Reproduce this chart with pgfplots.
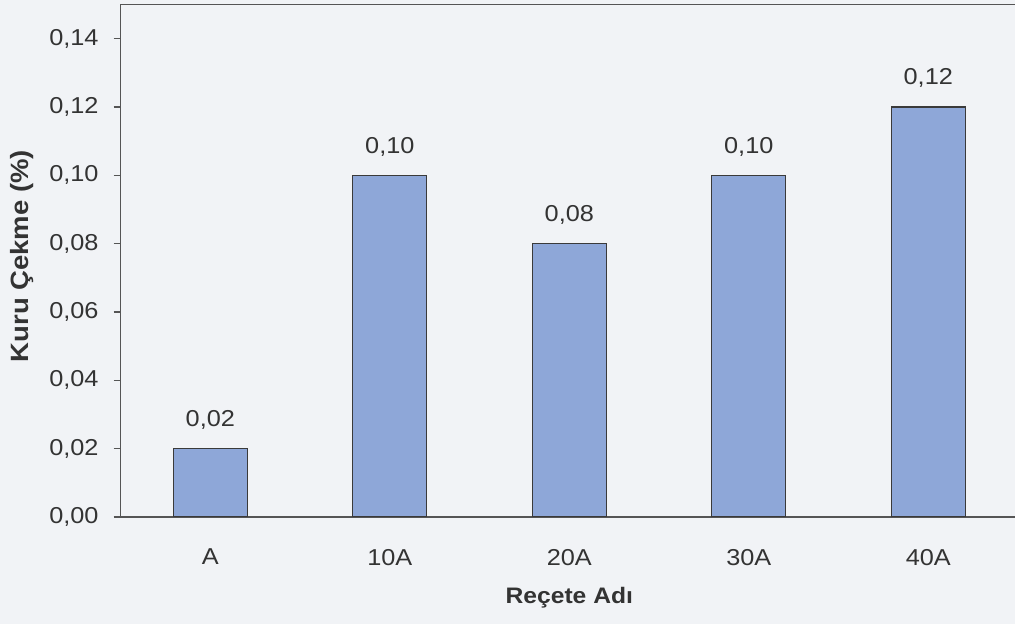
\documentclass[border=0pt]{standalone}
\usepackage{pgfplots}
\pgfplotsset{compat=1.18}
\usepackage{fontspec}
\setmainfont{Liberation Sans}[FakeStretch=1.1]

\definecolor{pagebg}{HTML}{F1F3F6}
\definecolor{barfill}{HTML}{8EA7D8}
\definecolor{baredge}{HTML}{3A3A3A}
\definecolor{axisgray}{HTML}{555555}
\definecolor{textgray}{HTML}{333333}

\begin{document}
\begin{tikzpicture}
  % page area and background
  \path[use as bounding box, fill=pagebg] (0,0) rectangle (507.5pt,312pt);
  \begin{axis}[
    at={(60.3pt,53.5pt)}, anchor=south west,
    scale only axis,
    width=448.7pt, height=256.25pt,
    xmin=-0.5, xmax=4.5,
    ymin=0, ymax=0.15,
    ytick={0,0.02,...,0.141},
    xtick={0,1,2,3,4},
    xticklabels={A,10A,20A,30A,40A},
    xtick pos=bottom, ytick pos=left,
    tick align=outside,
    major tick length=3.5pt,
    major x tick style={draw=none},
    extra x ticks={-0.5,0.5,1.5,2.5,3.5,4.5},
    extra x tick labels={},
    extra x tick style={major tick length=3.5pt, tick style={draw=axisgray, line width=0.6pt}},
    tick style={draw=axisgray, line width=0.6pt},
    axis line style={draw=axisgray, line width=0.75pt},
    font=\fontsize{11.5}{13}\selectfont,
    ticklabel style={text=textgray},
    /pgf/number format/.cd, use comma, fixed, fixed zerofill, precision=2, assume math mode=true,
    /pgfplots/.cd,
    x tick label style={yshift=-9pt},
    y tick label style={xshift=-4pt},
    ybar, bar width=37pt,
    nodes near coords,
    every node near coord/.append style={yshift=6pt, text=textgray, font=\fontsize{11.5}{13}\selectfont},
    xlabel={Reçete Adı},
    ylabel={Kuru Çekme (\%)},
    every axis x label/.style={at={(axis description cs:0.5,0)}, anchor=center, yshift=-40.5pt, font=\bfseries\fontsize{11.2}{13}\selectfont, text=textgray},
    every axis y label/.style={at={(axis description cs:-0.11,0.509)}, anchor=center, rotate=90, font=\bfseries\fontsize{12.5}{14}\selectfont, text=textgray},
  ]
    \addplot[fill=barfill, draw=baredge, line width=0.6pt]
      coordinates {(0,0.02) (1,0.10) (2,0.08) (3,0.10) (4,0.12)};
  \end{axis}
\end{tikzpicture}
\end{document}
